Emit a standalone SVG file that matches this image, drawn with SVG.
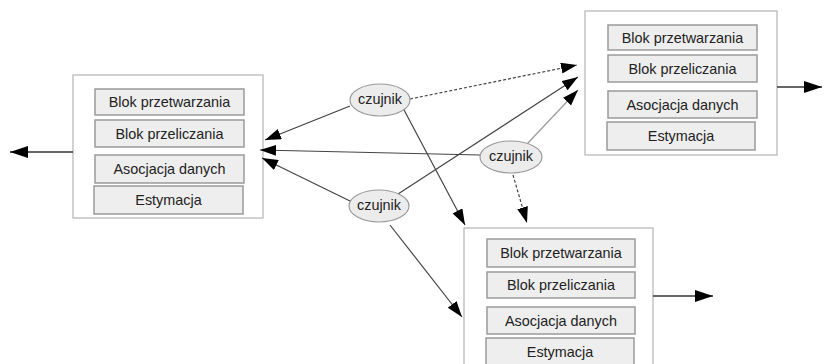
<svg xmlns="http://www.w3.org/2000/svg" width="826" height="364" viewBox="0 0 826 364">
<style>
.cont{fill:#fff;stroke:#b4b4b4;stroke-width:1.2}
.box{fill:#eee;stroke:#9a9a9a;stroke-width:1.5}
.t{font-family:"Liberation Sans",Arial,sans-serif;font-size:14.4px;fill:#222;text-anchor:middle;dominant-baseline:central}
.ell{fill:#ececec;stroke:#9a9a9a;stroke-width:1.2}
.e{stroke:#444;stroke-width:1.2;fill:none;marker-end:url(#ah)}
.d{stroke-dasharray:3,2}
.g{stroke:#9a9a9a}
.o{stroke:#333;stroke-width:1.4;fill:none;marker-end:url(#big)}
</style>
<defs>
<marker id="ah" markerUnits="userSpaceOnUse" markerWidth="17" markerHeight="12" refX="16" refY="5.5" orient="auto"><path d="M0,0 L16,5.5 L0,11 z" fill="#000"/></marker>
<marker id="big" markerUnits="userSpaceOnUse" markerWidth="19" markerHeight="13" refX="18" refY="6" orient="auto"><path d="M0,0 L18,6 L0,12 z" fill="#000"/></marker>
</defs>
<rect width="826" height="364" fill="#fff"/>
<g id="proc-left">
<rect class="cont" x="73" y="75" width="190" height="143"/>
<rect class="box" x="95" y="89" width="149" height="26"/><text class="t" x="169.5" y="102">Blok przetwarzania</text>
<rect class="box" x="95" y="120" width="149" height="27"/><text class="t" x="169.5" y="133.5">Blok przeliczania</text>
<rect class="box" x="95" y="155" width="149" height="28"/><text class="t" x="169.5" y="169">Asocjacja danych</text>
<rect class="box" x="94" y="186" width="149" height="28"/><text class="t" x="168.5" y="200">Estymacja</text>
</g>
<g id="proc-top">
<rect class="cont" x="585" y="11" width="192" height="144"/>
<rect class="box" x="608" y="25" width="149" height="25"/><text class="t" x="682.5" y="37.5">Blok przetwarzania</text>
<rect class="box" x="608" y="55" width="149" height="27"/><text class="t" x="682.5" y="68.5">Blok przeliczania</text>
<rect class="box" x="608" y="91" width="149" height="27"/><text class="t" x="682.5" y="104.5">Asocjacja danych</text>
<rect class="box" x="607" y="122" width="148" height="28"/><text class="t" x="681" y="136">Estymacja</text>
</g>
<g id="proc-bottom">
<rect class="cont" x="464" y="228" width="189" height="150"/>
<rect class="box" x="487" y="239" width="148" height="28"/><text class="t" x="561" y="253">Blok przetwarzania</text>
<rect class="box" x="487" y="272" width="148" height="26"/><text class="t" x="561" y="285">Blok przeliczania</text>
<rect class="box" x="487" y="307" width="148" height="27"/><text class="t" x="561" y="320.5">Asocjacja danych</text>
<rect class="box" x="486" y="338" width="148" height="30"/><text class="t" x="560" y="352">Estymacja</text>
</g>
<g id="connectors">
<path class="e" d="M350,106 L265,140"/>
<path class="e d" d="M410,99 L577,65"/>
<path class="e" d="M403,108 L465,225"/>
<path class="e" d="M480,155 L260,150"/>
<path class="e g" d="M527,144 L578,90"/>
<path class="e d" d="M513,175 L527,223"/>
<path class="e" d="M350,201 L262,158"/>
<path class="e" d="M398,194 L578,77"/>
<path class="e" d="M390,225 L462,317"/>
<path class="o" d="M73,152 L10,152"/>
<path class="o" d="M777,87 L822,87"/>
<path class="o" d="M653,296 L713,296"/>
</g>
<g id="sensor-1"><ellipse class="ell" cx="380" cy="100" rx="30" ry="16"/><text class="t" x="380" y="99">czujnik</text></g>
<g id="sensor-2"><ellipse class="ell" cx="511" cy="157" rx="31" ry="16"/><text class="t" x="511" y="156">czujnik</text></g>
<g id="sensor-3"><ellipse class="ell" cx="379" cy="206" rx="30" ry="16"/><text class="t" x="379" y="205">czujnik</text></g>
</svg>
